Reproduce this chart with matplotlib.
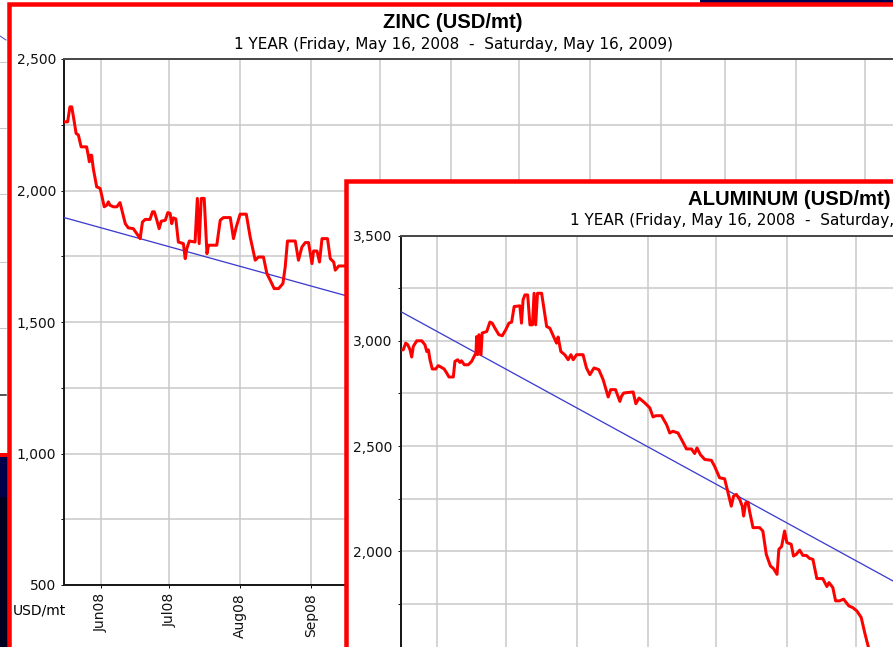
"""Two overlapping 1-year price panels (zinc behind, aluminum in front), screenshot style."""
import numpy as np
import pandas as pd
import matplotlib
matplotlib.use('Agg')
import matplotlib.pyplot as plt
from matplotlib.patches import Rectangle
from matplotlib.lines import Line2D

# ---------------- data (day offset from Friday, May 16, 2008 ; USD/mt) ----------------
zinc_day = [0, 1.5, 2.5, 3.3, 4.4, 5.2, 6.2, 7.4, 9.8, 10.5, 11, 11.3, 12, 12.7, 14.2,
            15.7, 16.4, 17.5, 18.6, 19.3, 20, 21.5, 23, 24.4, 26.7, 28, 30.2, 32.2, 33.2,
            34.2, 35.4, 37.5, 38.6, 39.4, 40.5, 41.5, 42.4, 44.2, 45.3, 46.3, 47, 47.7,
            48.8, 49.9, 52.1, 52.9, 53.6, 54.7, 57.2, 58.2, 59, 59.9, 61.2, 62.4, 63.1,
            66.7, 68.2, 69.6, 72.6, 74, 75.2, 76.9, 79.6, 81.3, 83.5, 84.9, 87.1, 88.6,
            90.1, 91.8, 93.7, 95.6, 96.6, 97.6, 101, 102.4, 103.9, 105.4, 106.8, 108.3,
            109, 110.5, 111.6, 112.7, 115.1, 116.3, 117.8, 118.5, 120, 121.4, 123]
zinc_usd = [2261, 2261, 2318, 2318, 2261, 2217, 2211, 2166, 2166, 2134, 2109, 2134, 2134, 2084, 2014,
            2008, 1982, 1938, 1944, 1957, 1944, 1938, 1938, 1954, 1874, 1858, 1855, 1830, 1817,
            1880, 1890, 1890, 1919, 1919, 1887, 1855, 1883, 1887, 1916, 1913, 1874, 1896,
            1892, 1804, 1798, 1741, 1779, 1808, 1804, 1970, 1798, 1970, 1970, 1760, 1792,
            1792, 1887, 1897, 1897, 1817, 1861, 1910, 1910, 1823, 1735, 1747, 1747, 1684,
            1658, 1627, 1627, 1646, 1709, 1808, 1808, 1735, 1785, 1802, 1802, 1722,
            1770, 1770, 1728, 1817, 1817, 1741, 1728, 1697, 1713, 1713, 1713]
zinc_trend = [1897, 1017]          # linear trend at start / end of the year

alu_day = [0, 1.1, 2.2, 3.1, 4.1, 4.8, 5.5, 7.0, 9.2, 10.6, 11.4, 12.1, 12.8, 13.8, 15.3,
           16.4, 17.6, 19.0, 20.1, 21.1, 23.0, 23.7, 24.9, 25.9, 26.6, 27.8, 29.5, 31.0,
           32.1, 32.9, 33.2, 33.6, 34.2, 35.1, 35.6, 37.6, 39.0, 40.0, 41.2, 42.9, 44.4,
           45.9, 47.3, 48.5, 49.6, 52.1, 52.8, 53.5, 54.3, 55.5, 56.5, 57.6, 58.3, 59.0,
           59.8, 61.6, 63.8, 65.2, 67.1, 68.1, 68.8, 70.0, 71.7, 73.2, 74.4, 75.4, 76.9,
           79.7, 81.2, 82.7, 84.5, 86.6, 88.5, 90.7, 91.8, 93.9, 95.8, 96.5, 97.5, 101.6,
           102.8, 104.2, 106.7, 108.9, 110.3, 111.5, 114.0, 116.2, 117.6, 119.0, 121.2,
           123.4, 124.9, 127.1, 128.5, 129.5, 131.0, 132.9, 135.8, 137.2, 139.4, 141.6,
           143.1, 143.8, 144.5, 145.5, 146.7, 148.2, 149.3, 149.9, 150.8, 151.8, 152.5,
           154.0, 156.9, 158.3, 159.8, 161.6, 163.0, 164.5, 165.3, 166.5, 167.8, 168.8,
           170.7, 171.7, 172.9, 174.4, 175.8, 177.3, 178.7, 180.2, 181.9, 184.5, 186.3,
           187.2, 188.9, 190.1, 191.8, 193.6, 195.9, 197.6, 199.4, 201.3, 202.8, 204.3, 205.9]
alu_usd = [2957, 2957, 2989, 2981, 2957, 2923, 2973, 3000, 3000, 2981, 2949, 2957, 2910, 2866, 2866,
           2882, 2875, 2866, 2847, 2828, 2828, 2902, 2910, 2897, 2905, 2886, 2886, 2902,
           2926, 2942, 3020, 2934, 3029, 2934, 3037, 3044, 3089, 3084, 3060, 3029, 3024,
           3052, 3084, 3089, 3163, 3166, 3084, 3195, 3218, 3218, 3076, 3076, 3226, 3076,
           3226, 3226, 3068, 3060, 3013, 2989, 3018, 2949, 2934, 2910, 2934, 2910, 2934,
           2934, 2871, 2839, 2871, 2863, 2815, 2733, 2768, 2768, 2712, 2736, 2752, 2757,
           2701, 2728, 2705, 2681, 2638, 2644, 2644, 2602, 2562, 2570, 2562,
           2518, 2486, 2486, 2464, 2491, 2459, 2436, 2432, 2404, 2349, 2344,
           2278, 2246, 2214, 2262, 2270, 2246, 2214, 2167, 2230, 2233, 2190,
           2112, 2112, 2096, 1985, 1930, 1917, 1890, 2009, 2022, 2096, 2041,
           2033, 1977, 1985, 2005, 1980, 1980, 1966, 1961, 1870, 1870, 1832,
           1851, 1827, 1764, 1764, 1772, 1740, 1732, 1716, 1685, 1614, 1549, 1487]
alu_trend = [3139, 967]

SUBTITLE = '1 YEAR (Friday, May 16, 2008  -  Saturday, May 16, 2009)'
START = pd.Timestamp('2008-05-16')
months = pd.date_range('2008-06-01', '2009-05-01', freq='MS')
month_pos = (months - START).days.values
month_lbl = list(months.strftime('%b%y'))
N_DAYS = (pd.Timestamp('2009-05-16') - START).days

# ---------------- figure in pixel units ----------------
W, H = 893, 647
plt.rcParams['font.family'] = ['DejaVu Sans']
plt.rcParams['font.size'] = 10
fig = plt.figure(figsize=(W / 100, H / 100), dpi=100)
PT = 0.72   # points per pixel at 100 dpi


def fx(x):
    return x / W


def fy(y):
    return 1 - y / H


def rect(x, y, w, h, z, fc, ec='none', lw=0):
    r = Rectangle((fx(x), fy(y + h)), w / W, h / H, transform=fig.transFigure,
                  fc=fc, ec=ec, lw=lw * PT, zorder=z)
    fig.add_artist(r)


def hline(x0, x1, y, color, lw, z):
    fig.add_artist(Line2D([fx(x0), fx(x1)], [fy(y), fy(y)], transform=fig.transFigure,
                          color=color, lw=lw * PT, zorder=z))


# screenshot leftovers behind the two panels
for gy in [62, 128, 194, 262, 328]:
    hline(0, 6, gy, '#c8c8c8', 1, 0.2)
hline(0, 6, 394.5, '#202020', 1.5, 0.2)
fig.add_artist(Line2D([fx(0), fx(6)], [fy(36), fy(40)], transform=fig.transFigure,
                      color='#4a4ad0', lw=1 * PT, zorder=0.2))
rect(0, 455, 9, 192, 0.3, '#000020')
rect(0, 455, 9, 42, 0.31, '#00004a')
rect(0, 453, 9, 4, 0.32, '#ff0000')
rect(700, 0, 193, 2.5, 0.3, '#000050')


def panel(px, py, title, ylo, yhi, days, usd, trend, z, label_min, xlabels=True):
    # px, py: top-left corner of the plot area in pixels
    pw, ph = 835, 526
    rect(px - 55, py - 55, 905, 646, z, 'white', '#ff0000', 4.5)
    ax = fig.add_axes([fx(px), fy(py + ph), pw / W, ph / H], zorder=z + 0.1)
    ax.set_facecolor('white')
    ax.set_xlim(0, N_DAYS)
    ax.set_ylim(ylo, yhi)

    ax.plot([0, N_DAYS], trend, color='#3c3cd0', lw=1.3 * PT, zorder=3)
    ax.plot(days, usd, color='#ff0000', lw=3 * PT, zorder=4)

    # labels only where the screenshot shows them (the rest is off the crop)
    yt = np.arange(ylo, yhi + 1, 250)
    ax.set_yticks(yt, [f'{v:,}' if v % 500 == 0 and v >= label_min else '' for v in yt])
    ax.set_xticks(month_pos, month_lbl if xlabels else [''] * len(month_pos))
    ax.tick_params(axis='y', length=3 * PT, width=1 * PT, pad=5 * PT, labelsize=10,
                   colors='#111111')
    ax.tick_params(axis='x', length=3 * PT, width=1 * PT, pad=5 * PT, labelsize=10,
                   labelrotation=90, colors='#111111')
    ax.grid(True, color='#c8c8c8', lw=1.5 * PT)
    ax.set_axisbelow(True)
    for side in ['left', 'bottom']:
        ax.spines[side].set_color('#1a1a1a')
        ax.spines[side].set_linewidth(2 * PT)
    ax.spines['top'].set_color('#4a4a4a')
    ax.spines['top'].set_linewidth(2 * PT)
    ax.spines['right'].set_visible(False)

    fig.text(fx(px + 389), fy(py - 31), title, ha='center', va='baseline',
             family='Liberation Sans', weight='bold', fontsize=14.6, zorder=z + 0.2)
    fig.text(fx(px + 389), fy(py - 10.5), SUBTITLE, ha='center', va='baseline',
             fontsize=11, zorder=z + 0.2)
    if xlabels:
        fig.text(fx(px - 51), fy(py + ph + 25), 'USD/mt', ha='left', va='center',
                 fontsize=10, zorder=z + 0.2)
    return ax


panel(64.2, 59, 'ZINC (USD/mt)', 500, 2500, zinc_day, zinc_usd, zinc_trend, 1, 500)
panel(400.7, 235.6, 'ALUMINUM (USD/mt)', 1000, 3500, alu_day, alu_usd, alu_trend, 3, 2000,
      xlabels=False)

fig.savefig('out.png', dpi=100)
